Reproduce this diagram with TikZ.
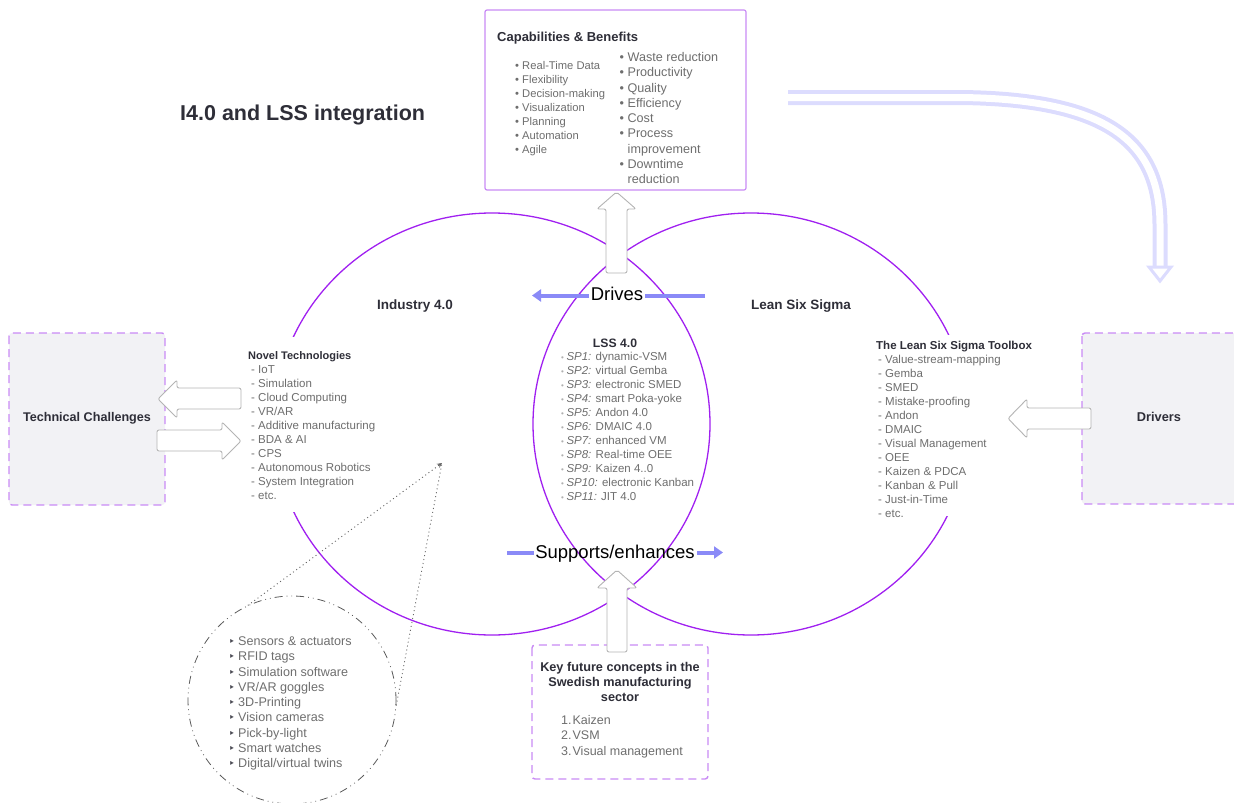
\documentclass[tikz,border=0pt]{standalone}
\usepackage{fontspec}
\setmainfont{Liberation Sans}
\newfontfamily\dejavu{DejaVu Sans}
\usetikzlibrary{arrows.meta,shapes.geometric}
\definecolor{vio}{HTML}{A020F0}
\definecolor{lilac}{HTML}{C98BF5}
\definecolor{peri}{HTML}{8A8AF7}
\definecolor{lav}{HTML}{DCDCFE}
\definecolor{txt}{HTML}{2E2E38}
\definecolor{lgray}{HTML}{6E6E6E}
\definecolor{boxfill}{HTML}{F2F2F5}
\definecolor{arrgray}{HTML}{B4B4B4}
\begin{document}
\begin{tikzpicture}[x=1pt,y=-1pt,
  hdr/.style={font=\fontsize{11.5}{14}\selectfont\bfseries, text=txt, inner sep=0, anchor=base west},
  item/.style={font=\fontsize{11.5}{14}\selectfont, text=lgray, inner sep=0, anchor=base west},
  bigitem/.style={font=\fontsize{12.6}{15}\selectfont, text=lgray, inner sep=0, anchor=base west},
  label/.style={font=\fontsize{13.5}{16}\selectfont\bfseries, text=txt, inner sep=0, anchor=base},
  flowtext/.style={font=\fontsize{18.5}{20}\selectfont, text=black, inner sep=0, anchor=base},
  flow/.style={draw=peri, line width=4pt},
  flowhead/.style={draw=peri, line width=4pt, -{Triangle[length=9pt,width=12pt]}},
  venn/.style={ellipse, draw=vio, line width=1.3pt, minimum width=436pt, minimum height=422pt, inner sep=0},
  dashbox/.style={draw=lilac, line width=1.4pt, dash pattern=on 8pt off 5pt, rounded corners=3pt},
  blockarrow/.style={draw=arrgray, fill=white, line width=0.9pt, rounded corners=2pt, line join=round},
  dotline/.style={draw=black!60, line width=0.9pt, dash pattern=on 1pt off 3pt}
]
\useasboundingbox (0,0) rectangle (1234,803);

% Venn circles
\node[venn] (i40) at (492,424) {};
\node[venn] (lss) at (751,424) {};
% white backgrounds of the two text columns (hide the circle lines)
\fill[white] (244,337) rectangle (380,512);
\fill[white] (872,335) rectangle (1036,516);

% Title
\node[font=\fontsize{21.5}{24}\selectfont\bfseries, text=txt, inner sep=0, anchor=base west] (title) at (180,120) {I4.0 and LSS integration};

% Capabilities box
\draw[draw=lilac, line width=1.2pt, rounded corners=2pt, fill=white] (485,10) rectangle (746,190);
\node[font=\fontsize{13}{15}\selectfont\bfseries, text=txt, inner sep=0, anchor=base west] (cap) at (497,41.5) {Capabilities \& Benefits};
\foreach \t [count=\i] in {Real-Time Data, Flexibility, Decision-making, Visualization, Planning, Automation, Agile}
  \node[item, font=\fontsize{11.2}{14}\selectfont] (capl\i) at (515,{69+14*(\i-1)}) {• \t};
\node[bigitem] (capr1) at (619.5,61.5) {• Waste reduction};
\node[bigitem] (capr2) at (619.5,76.75) {• Productivity};
\node[bigitem] (capr3) at (619.5,92) {• Quality};
\node[bigitem] (capr4) at (619.5,107.25) {• Efficiency};
\node[bigitem] (capr5) at (619.5,122.5) {• Cost};
\node[bigitem] (capr6) at (619.5,137.75) {• Process};
\node[bigitem] (capr7) at (627.5,153) {improvement};
\node[bigitem] (capr8) at (619.5,168.25) {• Downtime};
\node[bigitem] (capr9) at (627.5,183.5) {reduction};

% Curved double arrow (top right)
\coordinate (cS) at (788,97.5);
\coordinate (cE) at (1160,266);
\draw[lav, line width=4pt, double=white, double distance=7pt] (cS) -- (960,97.5) .. controls (1105,99) and (1160,140) .. (1160,225) -- (cE);
\draw[lav, line width=3pt, fill=white, line join=miter] (1149,267) -- (1171,267) -- (1160,281) -- cycle;

% Circle labels
\node[label] (l40) at (415,309) {Industry 4.0};
\node[label] (llss) at (801,309) {Lean Six Sigma};

% Drives
\coordinate (dA) at (705,295.5);
\coordinate (dB) at (645,295.5);
\coordinate (dC) at (589,295.5);
\coordinate (dD) at (532,295.5);
\draw[flow] (dA) -- (dB);
\draw[flowhead] (dC) -- (dD);
\node[flowtext] (drives) at (617,300.5) {Drives};

% Supports / enhances
\coordinate (sA) at (507,552.5);
\coordinate (sB) at (534,552.5);
\coordinate (sC) at (697,552.5);
\coordinate (sD) at (723,552.5);
\draw[flow] (sA) -- (sB);
\draw[flowhead] (sC) -- (sD);
\node[flowtext] (supp) at (615,558.5) {Supports/enhances};

% Up arrow to capabilities
\draw[blockarrow] (606,273) -- (606,209) -- (597,209) -- (616.5,192) -- (636,209) -- (627,209) -- (627,273) -- cycle;

% Novel technologies
\node[hdr, font=\fontsize{11}{14}\selectfont\bfseries] (nov) at (248,359) {Novel Technologies};
\foreach \t [count=\i] in {IoT, Simulation, Cloud Computing, VR/AR, Additive manufacturing, BDA \& AI, CPS, Autonomous Robotics, System Integration, etc.}
  \node[item] (nt\i) at (251,{373+14*(\i-1)}) {- \t};

% LSS 4.0
\node[label, font=\fontsize{12.2}{14}\selectfont\bfseries] (lss40) at (615,347) {LSS 4.0};
\foreach \t [count=\i] in {{\textit{SP1:} dynamic-VSM}, {\textit{SP2:} virtual Gemba}, {\textit{SP3:} electronic SMED}, {\textit{SP4:} smart Poka-yoke}, {\textit{SP5:} Andon 4.0}, {\textit{SP6:} DMAIC 4.0}, {\textit{SP7:} enhanced VM}, {\textit{SP8:} Real-time OEE}, {\textit{SP9:} Kaizen 4..0}, {\textit{SP10:} electronic Kanban}, {\textit{SP11:} JIT 4.0}}
  \node[item] (sp\i) at (561,{360+14*(\i-1)}) {{\color{lgray!55}\fontsize{8}{8}\selectfont•}\hspace{2.5pt}\t};

% Toolbox
\node[hdr] (tool) at (876,349) {The Lean Six Sigma Toolbox};
\foreach \t [count=\i] in {Value-stream-mapping, Gemba, SMED, Mistake-proofing, Andon, DMAIC, Visual Management, OEE, Kaizen \& PDCA, Kanban \& Pull, Just-in-Time, etc.}
  \node[item] (tb\i) at (878,{363+14*(\i-1)}) {- \t};

% Technical challenges
\draw[dashbox, fill=boxfill] (9,333) rectangle (165,505);
\node[font=\fontsize{12.6}{15}\selectfont\bfseries, text=txt, inner sep=0, anchor=base] (tc) at (87,421.5) {Technical Challenges};
\draw[blockarrow] (241,388) -- (177,388) -- (177,380) -- (158,399) -- (177,418) -- (177,409) -- (241,409) -- cycle;
\draw[blockarrow] (157,430) -- (222,430) -- (222,422) -- (241,441) -- (222,460) -- (222,451) -- (157,451) -- cycle;

% Drivers
\draw[dashbox, fill=boxfill] (1082,333) rectangle (1250,504);
\node[font=\fontsize{12.8}{15}\selectfont\bfseries, text=txt, inner sep=0, anchor=base] (drv) at (1159,421.5) {Drivers};
\draw[blockarrow] (1091,408) -- (1027,408) -- (1027,399) -- (1008,418.5) -- (1027,438) -- (1027,429) -- (1091,429) -- cycle;

% Key future concepts
\draw[dashbox, fill=white] (532,645) rectangle (708,779);
\node[font=\fontsize{12.7}{15}\selectfont\bfseries, text=txt, inner sep=0, anchor=base] (k1) at (620,671) {Key future concepts in the};
\node[font=\fontsize{12.7}{15}\selectfont\bfseries, text=txt, inner sep=0, anchor=base] (k2) at (620,686) {Swedish manufacturing};
\node[font=\fontsize{12.7}{15}\selectfont\bfseries, text=txt, inner sep=0, anchor=base] (k3) at (620,701) {sector};
\node[bigitem, font=\fontsize{12.5}{15}\selectfont] (kl1) at (561,724) {1.\hspace{1pt}Kaizen};
\node[bigitem, font=\fontsize{12.5}{15}\selectfont] (kl2) at (561,739.5) {2.\hspace{1pt}VSM};
\node[bigitem, font=\fontsize{12.5}{15}\selectfont] (kl3) at (561,755) {3.\hspace{1pt}Visual management};
\draw[blockarrow] (607,652) -- (607,588) -- (597,588) -- (617,570) -- (637,588) -- (627,588) -- (627,652) -- cycle;

% Devices circle
\node[circle, draw=black!65, line width=0.8pt, dash pattern=on 8pt off 4pt on 0.8pt off 4pt on 0.8pt off 4pt, minimum size=208pt, inner sep=0] (dev) at (292,700) {};
\coordinate (apex) at (442,463);
\draw[dotline, -{Stealth[length=5pt,width=5pt]}] (dev.115) -- (apex);
\draw[dotline] (dev.-3) -- (apex);
\foreach \t [count=\i] in {Sensors \& actuators, RFID tags, Simulation software, VR/AR goggles, 3D-Printing, Vision cameras, Pick-by-light, Smart watches, Digital/virtual twins}
{
  \node[bigitem, text=txt!85] (dvb\i) at (228.5,{645.5+15.25*(\i-1)}) {\dejavu\fontsize{11}{11}\selectfont ‣};
  \node[bigitem] (dvt\i) at (238,{645.5+15.25*(\i-1)}) {\t};
}
\end{tikzpicture}
\end{document}
